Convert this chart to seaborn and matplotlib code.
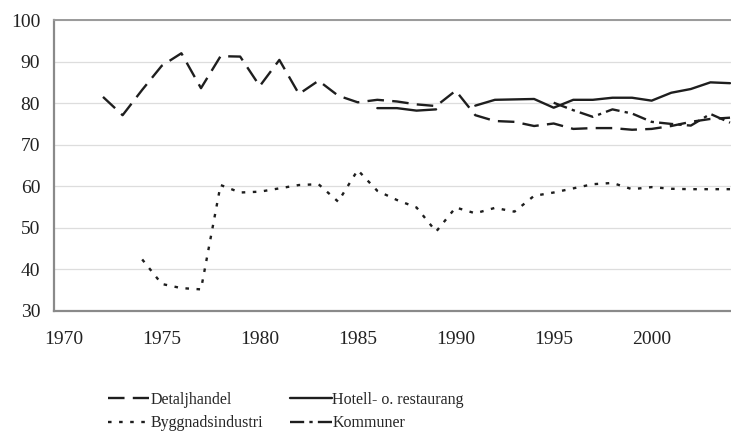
import numpy as np
import pandas as pd
import seaborn as sns
import matplotlib.pyplot as plt
from matplotlib.ticker import FixedLocator

# Data
years = list(range(1970, 2005))

detaljhandel = [np.nan, np.nan, 81.5, 77.1, 83.2, 89.0, 92.0, 83.6, 91.3, 91.2,
                84.1, 90.4, 82.2, 85.4, 81.8, 80.2, 80.8, 80.4, 79.7, 79.3,
                83.0, 77.1, 75.7, 75.5, 74.5, 75.1, 73.8, 74.0, 74.0, 73.6,
                73.8, 74.5, 75.5, 76.2, 76.5]

hotell = [np.nan] * 16 + [78.8, 78.8, 78.2, 78.5,
                          np.nan, 79.4, 80.8, 80.9, 81.0, 78.9, 80.8, 80.8, 81.3, 81.3,
                          80.6, 82.5, 83.4, 85.0, 84.8]

bygg = [np.nan] * 4 + [42.4, 36.5, 35.5, 35.2, 60.3, 58.5,
                       58.7, 59.5, 60.3, 60.5, 56.3, 63.9, 58.9, 56.7, 54.9, 49.1,
                       54.9, 53.5, 54.8, 53.9, 57.7, 58.5, 59.5, 60.5, 60.8, 59.3,
                       59.8, 59.4, 59.3, 59.3, 59.3]

kommuner = [np.nan] * 25 + [80.1, 78.3, 76.7, 78.5, 77.5,
                            75.5, 75.0, 74.6, 77.4, 75.3]

labels = ['Detaljhandel', 'Hotell- o. restaurang', 'Byggnadsindustri', 'Kommuner']

df = pd.DataFrame({'year': years, labels[0]: detaljhandel, labels[1]: hotell,
                   labels[2]: bygg, labels[3]: kommuner})

sns.set_style('white')
plt.rcParams['font.family'] = ['Liberation Serif', 'DejaVu Serif']

fig = plt.figure(figsize=(7.31, 4.33), dpi=100)
ax = fig.add_axes([0.0739, 0.2818, 0.9261, 0.672])

line_color = '#1e1e1e'
dash_styles = {
    labels[0]: (0, (7, 3.5)),
    labels[1]: '-',
    labels[2]: (0, (1.5, 3.2)),
    labels[3]: (0, (6, 2.2, 1.4, 2.2)),
}

for name in labels:
    sub = df[['year', name]].copy()
    # separate segments so gaps (missing years) stay gaps
    sub['seg'] = sub[name].isna().cumsum()
    sub = sub.dropna()
    sns.lineplot(data=sub, x='year', y=name, units='seg', estimator=None,
                 color=line_color, linestyle=dash_styles[name], linewidth=1.7,
                 ax=ax, legend=False)

ax.set_xlim(1969.5, 2004.05)
ax.set_ylim(30, 100)
ax.set_yticks(range(30, 101, 10))
ax.set_xticks(range(1970, 2001, 5))
ax.xaxis.set_minor_locator(FixedLocator(np.arange(1969.5, 2005, 1)))
ax.tick_params(axis='x', which='major', length=0, pad=14.5, labelsize=14, labelcolor='#222222')
ax.tick_params(axis='x', which='minor', length=5, width=0.8, color='#bbbbbb', direction='out')
ax.tick_params(axis='y', length=6, width=0.8, color='#bbbbbb', direction='out',
               labelsize=14, labelcolor='#222222', pad=4)
ax.set_xlabel('')
ax.set_ylabel('')

ax.grid(axis='y', color='#dddddd', linewidth=0.9)
ax.set_axisbelow(True)
for side in ['left', 'bottom']:
    ax.spines[side].set_color('#8a8a8a')
    ax.spines[side].set_linewidth(1.6)
ax.spines['top'].set_color('#9a9a9a')
ax.spines['top'].set_linewidth(1.4)
ax.spines['right'].set_visible(False)

handles = []
for name in [labels[0], labels[2], labels[1], labels[3]]:
    h, = ax.plot([], [], color=line_color, linestyle=dash_styles[name], linewidth=1.7)
    handles.append(h)

fig.legend(handles, [labels[0], labels[2], labels[1], labels[3]],
           ncol=2, loc='center left', bbox_to_anchor=(0.1477, 0.0495),
           frameon=False, fontsize=11.5, handlelength=2.6, handletextpad=0.05,
           columnspacing=1.7, labelspacing=0.45, borderpad=0, borderaxespad=0)

fig.savefig('out.png', dpi=100)
